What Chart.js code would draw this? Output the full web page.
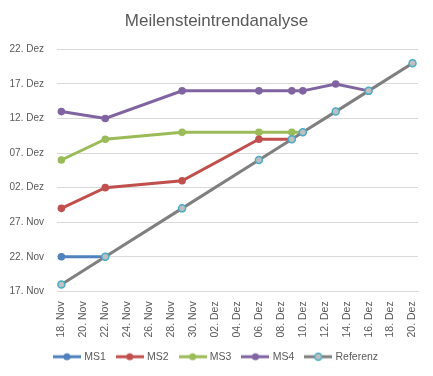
<!DOCTYPE html>
<html>
<head>
<meta charset="utf-8">
<script src="https://cdn.jsdelivr.net/npm/chart.js@4.4.0/dist/chart.umd.min.js"></script>
<style>
  html, body { margin: 0; padding: 0; background: #fff; }
  #wrap { width: 433px; height: 376px; }
</style>
</head>
<body>
<div id="wrap"><canvas id="mtaChart"></canvas></div>
<script>
// Berichtstermine (x) und prognostizierte Meilensteintermine (y)
const reportDates = ['2013-11-18', '2013-11-22', '2013-11-29', '2013-12-06', '2013-12-09', '2013-12-10', '2013-12-13', '2013-12-16', '2013-12-20'];
const ms1 = ['2013-11-22', '2013-11-22', null, null, null, null, null, null, null];
const ms2 = ['2013-11-29', '2013-12-02', '2013-12-03', '2013-12-09', '2013-12-09', null, null, null, null];
const ms3 = ['2013-12-06', '2013-12-09', '2013-12-10', '2013-12-10', '2013-12-10', '2013-12-10', null, null, null];
const ms4 = ['2013-12-13', '2013-12-12', '2013-12-16', '2013-12-16', '2013-12-16', '2013-12-16', '2013-12-17', '2013-12-16', null];
const referenz = ['2013-11-18', '2013-11-22', '2013-11-29', '2013-12-06', '2013-12-09', '2013-12-10', '2013-12-13', '2013-12-16', '2013-12-20'];

const seriesNames = ['MS1', 'MS2', 'MS3', 'MS4', 'Referenz'];
const seriesColors = ['#4F81BD', '#C0504D', '#9BBB59', '#8064A2', '#7F7F7F'];

// Achsen
const xAxisStart = '2013-11-18';
const xAxisEnd = '2013-12-20';
const xAxisStep = 2;
const yAxisStart = '2013-11-17';
const yAxisEnd = '2013-12-22';
const yAxisStep = 5;

const monthNames = ['Jan', 'Feb', 'Mär', 'Apr', 'Mai', 'Jun', 'Jul', 'Aug', 'Sep', 'Okt', 'Nov', 'Dez'];
const DAY = 86400000;

const toDay = s => Math.round(Date.parse(s + 'T00:00:00Z') / DAY);
const fmtDay = d => {
    const dt = new Date(d * DAY);
    return String(dt.getUTCDate()).padStart(2, '0') + '. ' + monthNames[dt.getUTCMonth()];
};

const toPoints = arr => arr
    .map((v, i) => v === null ? null : { x: toDay(reportDates[i]), y: toDay(v) })
    .filter(p => p !== null);

// kleines Legendensymbol: Linie mit Punkt
const legendIcon = (lineColor, fill, border) => {
    const c = document.createElement('canvas');
    c.width = 28; c.height = 10;
    const ctx = c.getContext('2d');
    ctx.strokeStyle = lineColor;
    ctx.lineWidth = 3;
    ctx.beginPath(); ctx.moveTo(0, 5); ctx.lineTo(28, 5); ctx.stroke();
    ctx.beginPath(); ctx.arc(14, 5, 3.5, 0, Math.PI * 2);
    ctx.fillStyle = fill; ctx.fill();
    if (border) { ctx.lineWidth = 1.5; ctx.strokeStyle = border; ctx.stroke(); }
    return c;
};

const msData = [ms1, ms2, ms3, ms4];
const datasets = msData.map((arr, i) => ({
    label: seriesNames[i],
    data: toPoints(arr),
    borderColor: seriesColors[i],
    backgroundColor: seriesColors[i],
    pointBackgroundColor: seriesColors[i],
    pointBorderColor: seriesColors[i],
    borderWidth: 3,
    pointRadius: 3.8,
    pointBorderWidth: 0,
    order: 2,
    icon: legendIcon(seriesColors[i], seriesColors[i])
}));

datasets.push({
    label: seriesNames[4],
    data: toPoints(referenz),
    borderColor: seriesColors[4],
    backgroundColor: '#BFBFBF',
    pointBackgroundColor: '#BFBFBF',
    pointBorderColor: '#4BACC6',
    borderWidth: 3,
    pointRadius: 3.5,
    pointBorderWidth: 1.5,
    order: 1,
    icon: legendIcon(seriesColors[4], '#BFBFBF', '#4BACC6')
});

const xMin = toDay(xAxisStart), xMax = toDay(xAxisEnd);
const yMin = toDay(yAxisStart), yMax = toDay(yAxisEnd);

const textColor = '#595959';
const gridColor = '#D9D9D9';
const fontFamily = '"Liberation Sans", Arial, sans-serif';

new Chart(document.getElementById('mtaChart'), {
    type: 'line',
    data: { datasets: datasets },
    options: {
        responsive: true,
        maintainAspectRatio: false,
        animation: false,
        layout: { padding: { left: 4, right: 4, top: 0, bottom: 4 } },
        elements: { line: { tension: 0 } },
        plugins: {
            title: {
                display: true,
                text: 'Meilensteintrendanalyse',
                color: textColor,
                font: { family: fontFamily, size: 17, weight: 'normal' },
                padding: { top: 11, bottom: 18 }
            },
            legend: {
                position: 'bottom',
                labels: {
                    color: textColor,
                    font: { family: fontFamily, size: 10.5 },
                    usePointStyle: true,
                    pointStyleWidth: 24,
                    padding: 12,
                    sort: (a, b) => a.datasetIndex - b.datasetIndex,
                    generateLabels: chart => {
                        const items = Chart.defaults.plugins.legend.labels.generateLabels(chart);
                        items.forEach(it => {
                            it.pointStyle = chart.data.datasets[it.datasetIndex].icon;
                        });
                        return items;
                    }
                }
            },
            tooltip: { enabled: false }
        },
        scales: {
            x: {
                type: 'linear',
                min: xMin - 0.4,
                max: xMax + 0.5,
                afterBuildTicks: scale => {
                    const ticks = [];
                    for (let d = xMin; d <= xMax; d += xAxisStep) ticks.push({ value: d });
                    scale.ticks = ticks;
                },
                grid: { display: false },
                border: { display: true, color: gridColor },
                ticks: {
                    color: textColor,
                    font: { family: fontFamily, size: 10.5 },
                    minRotation: 90,
                    maxRotation: 90,
                    padding: 2,
                    autoSkip: false,
                    callback: v => fmtDay(v)
                }
            },
            y: {
                type: 'linear',
                min: yMin,
                max: yMax,
                afterFit: scale => { scale.width = 53; },
                grid: { color: gridColor, drawTicks: false },
                border: { display: false },
                ticks: {
                    stepSize: yAxisStep,
                    color: textColor,
                    font: { family: fontFamily, size: 10 },
                    padding: 13,
                    callback: v => fmtDay(v)
                }
            },
            // leere Achse rechts als Abstand zum Rand
            yRight: {
                type: 'linear',
                position: 'right',
                min: yMin,
                max: yMax,
                afterFit: scale => { scale.width = 11; },
                grid: { display: false },
                border: { display: false },
                ticks: { display: false }
            }
        }
    }
});
</script>
</body>
</html>
